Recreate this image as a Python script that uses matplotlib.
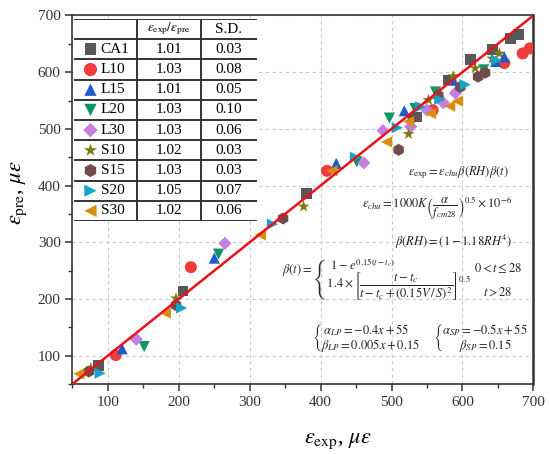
import matplotlib
matplotlib.use('Agg')
import matplotlib.pyplot as plt
import numpy as np

plt.rcParams.update({
    'font.family': ['Liberation Serif', 'DejaVu Serif'],
    'mathtext.fontset': 'stix',
    'axes.edgecolor': '#333333',
    'xtick.color': '#333333',
    'ytick.color': '#333333',
})

# === データ (ε_exp, ε_pre) ===
series_names = ['CA1', 'L10', 'L15', 'L20', 'L30', 'S10', 'S15', 'S20', 'S30']
ratio_vals = ['1.01', '1.03', '1.01', '1.03', '1.03', '1.02', '1.03', '1.05', '1.02']
sd_vals = ['0.03', '0.08', '0.05', '0.10', '0.06', '0.03', '0.03', '0.07', '0.06']

ca1_x = [87, 206, 380, 536, 580, 611, 642, 668, 679]
ca1_y = [82, 214, 386, 521, 586, 623, 640, 659, 667]
l10_x = [111, 217, 409, 558, 659, 685, 695]
l10_y = [101, 256, 426, 533, 616, 633, 642]
l15_x = [120, 250, 422, 518, 587, 647, 659]
l15_y = [112, 272, 439, 532, 586, 619, 627]
l20_x = [151, 256, 451, 497, 533, 562, 630]
l20_y = [116, 279, 442, 519, 536, 565, 604]
l30_x = [140, 265, 461, 488, 527, 550, 573, 590]
l30_y = [129, 298, 440, 497, 504, 533, 546, 563]
s10_x = [76, 196, 376, 524, 552, 587, 618, 642, 652]
s10_y = [78, 201, 363, 491, 551, 593, 607, 624, 633]
s15_x = [73, 196, 347, 510, 530, 566, 597, 622, 632]
s15_y = [72, 189, 342, 463, 520, 559, 574, 592, 599]
s20_x = [89, 204, 332, 449, 508, 541, 568, 604, 648]
s20_y = [69, 184, 332, 450, 502, 539, 552, 578, 621]
s30_x = [59, 181, 315, 416, 493, 524, 555, 582, 593]
s30_y = [68, 175, 313, 426, 477, 513, 527, 540, 549]

line_xy = [50, 700]

xs = [ca1_x, l10_x, l15_x, l20_x, l30_x, s10_x, s15_x, s20_x, s30_x]
ys = [ca1_y, l10_y, l15_y, l20_y, l30_y, s10_y, s15_y, s20_y, s30_y]
markers = ['s', 'o', '^', 'v', 'D', '*', 'h', '>', '<']
sizes = [60, 75, 65, 65, 45, 80, 75, 65, 65]
colors = ['#585858', '#f03c3c', '#1f5cc8', '#0e9466', '#c47fe0', '#7d7a10', '#6f4b4b', '#19a2c8', '#d88e0e']

fig = plt.figure(figsize=(5.5, 4.54), dpi=100)
ax = fig.add_axes([0.1318, 0.1542, 0.8379, 0.8117])

ax.set_xlim(50, 700)
ax.set_ylim(50, 700)
ax.set_xticks(np.arange(100, 701, 100))
ax.set_yticks(np.arange(100, 701, 100))
ax.set_xticks(np.arange(50, 701, 50), minor=True)
ax.set_yticks(np.arange(50, 701, 50), minor=True)
ax.tick_params(which='major', length=5, width=1.1, labelsize=11, direction='out')
ax.tick_params(which='minor', length=3, width=1.0, direction='out')
ax.grid(True, which='major', color='#c8c8c8', linestyle=(0, (3, 3)), linewidth=0.8)
ax.set_axisbelow(True)
for s in ax.spines.values():
    s.set_linewidth(1.2)
ax.spines['right'].set_linewidth(1.8)

for x, y, m, sz, c in zip(xs, ys, markers, sizes, colors):
    ax.scatter(x, y, marker=m, s=sz, color=c, edgecolors='none', zorder=3)

ax.plot(line_xy, line_xy, color='#e8121b', linewidth=1.8, zorder=4)

ax.set_xlabel(r'$\varepsilon_{\rm exp}$, $\mu\varepsilon$', fontsize=16)
ax.set_ylabel(r'$\varepsilon_{\rm pre}$, $\mu\varepsilon$', fontsize=16)
ax.xaxis.set_label_coords(0.575, -0.13)
ax.yaxis.set_label_coords(-0.095, 0.52)

# 数式
eq_kw = dict(transform=ax.transData, fontsize=9, color='#222222', zorder=5)
ax.text(665, 422, r'$\varepsilon_{\rm exp}=\varepsilon_{chu}\beta(RH)\beta(t)$', ha='right', va='center', **eq_kw)
ax.text(670, 360, r'$\varepsilon_{chu}=1000K\left(\dfrac{\alpha}{f_{cm28}}\right)^{0.5}\times10^{-6}$', ha='right', va='center', **eq_kw)
ax.text(670, 301, r'$\beta(RH)=(1-1.18RH^{4})$', ha='right', va='center', **eq_kw)
ax.text(346, 233,
        r'$\beta(t)=\left\{\genfrac{}{}{0}{0}{1-e^{0.15(t-t_c)}\qquad\qquad\qquad\qquad}'
        r'{1.4\times\left[\dfrac{t-t_c}{t-t_c+(0.15V\,/\,S)^2}\right]^{0.5}}\right.$',
        ha='left', va='center', **eq_kw)
ax.text(684, 255, r'$0<t\leq28$', ha='right', va='center', **eq_kw)
ax.text(670, 211, r'$t>28$', ha='right', va='center', **eq_kw)

ax.text(388, 131, r'$\left\{\genfrac{}{}{0}{0}{\alpha_{LP}{=}{-}0.4x+55\quad}{\beta_{LP}{=}0.005x+0.15}\right.$',
        ha='left', va='center', **eq_kw)
ax.text(559, 131, r'$\left\{\genfrac{}{}{0}{0}{\alpha_{SP}{=}{-}0.5x+55}{\beta_{SP}{=}0.15}\right.$',
        ha='left', va='center', **eq_kw)

# 表
tab = fig.add_axes([0.1345, 0.5132, 0.3327, 0.4449])
tab.set_xlim(0, 1)
tab.set_ylim(10, 0)
tab.set_xticks([])
tab.set_yticks([])
for s in tab.spines.values():
    s.set_visible(False)
tab.set_facecolor('white')
for r in range(11):
    tab.axhline(r, color='#333333', linewidth=1.4)
tab.axvline(0.343, color='#333333', linewidth=1.4)
tab.axvline(0.694, color='#333333', linewidth=1.4)
tab.text(0.517, 0.5, r'$\varepsilon_{\rm exp}/\varepsilon_{\rm pre}$', ha='center', va='center', fontsize=9.5)
tab.text(0.846, 0.5, 'S.D.', ha='center', va='center', fontsize=11)
for i, (name, rv, sd) in enumerate(zip(series_names, ratio_vals, sd_vals)):
    yc = i + 1.5
    tab.scatter([0.09], [yc], marker=markers[i], s=sizes[i] * 1.2, color=colors[i], edgecolors='none', clip_on=False)
    tab.text(0.145, yc, name, ha='left', va='center', fontsize=11)
    tab.text(0.517, yc, rv, ha='center', va='center', fontsize=11)
    tab.text(0.846, yc, sd, ha='center', va='center', fontsize=11)

plt.savefig('out.png', dpi=100)
